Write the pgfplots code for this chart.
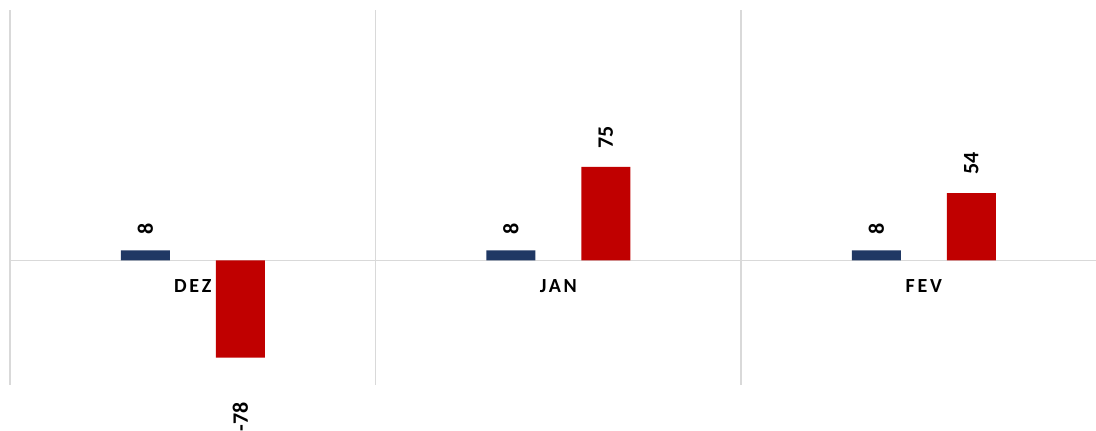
\documentclass[border=0pt]{standalone}
\usepackage{pgfplots}
\pgfplotsset{compat=1.18}
\usepackage{pgfplotstable}
\usepackage{graphicx}
\usepackage{fontspec}
\setmainfont{Carlito}
\newfontfamily\catfont[LetterSpace=14]{Carlito}
\definecolor{navy}{HTML}{203864}
\definecolor{darkred}{HTML}{C00000}
\definecolor{gridgray}{HTML}{D9D9D9}

\pgfplotstableread{
x y lbl off
0 8 8 16
1 8 8 16
2 8 8 16
}\bluedata
\pgfplotstableread{
x y lbl off
0 -78 -78 -74
1 75 75 18
2 54 54 18
}\reddata

\begin{document}
\begin{tikzpicture}
\begin{axis}[
 scale only axis, width=1086pt, height=375pt,
 xmin=-0.5, xmax=2.471, ymin=-100, ymax=201,
 ybar=46pt, bar width=49pt,
 axis x line=middle, axis y line=none,
 x axis line style={draw=gridgray, line width=1.5pt, -},
 xtick={0,1,2}, xticklabels={DEZ,JAN,FEV},
 xticklabel style={font=\catfont\bfseries\fontsize{20}{22}\selectfont, inner sep=0pt, yshift=-19pt},
 major tick length=0pt,
 extra x ticks={-0.5,0.5,1.5}, extra x tick labels={},
 extra x tick style={grid=major, major grid style={draw=gridgray, line width=1.5pt}},
 ytick=\empty,
 point meta=explicit symbolic,
 nodes near coords={\rotatebox{90}{\pgfplotspointmeta}},
 visualization depends on={\thisrow{off} \as \off},
 every node near coord/.append style={font=\bfseries\fontsize{22}{24}\selectfont, inner sep=0pt, yshift=\off pt},
 clip=false,
]
\addplot[fill=navy, draw=none] table[x=x,y=y,meta=lbl]{\bluedata};
\addplot[fill=darkred, draw=none] table[x=x,y=y,meta=lbl]{\reddata};
\end{axis}
\pgfresetboundingbox
\path[use as bounding box] ([xshift=-10pt,yshift=-46pt]current axis.south west) rectangle ([yshift=10pt]current axis.north east);
\end{tikzpicture}
\end{document}
